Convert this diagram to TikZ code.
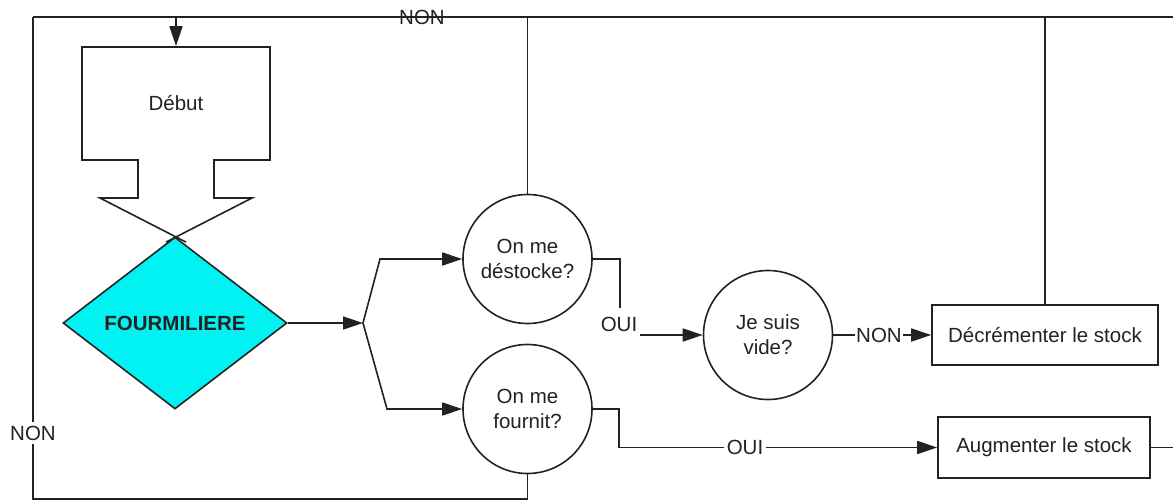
\documentclass[tikz,border=0pt]{standalone}
\usepackage{fontspec}
\setmainfont{Liberation Sans}
\usetikzlibrary{arrows.meta,shapes.geometric}
\definecolor{ink}{HTML}{222222}
\definecolor{antcyan}{RGB}{0,242,242}
\begin{document}
\begin{tikzpicture}[x=1pt,y=-1pt,
  line width=1.6pt, color=ink,
  every node/.style={font=\fontsize{20.5}{25}\selectfont},
  arr/.style={-{Triangle[length=20pt,width=13pt]}},
  qcircle/.style={draw, circle, minimum size=129pt, inner sep=0pt, align=center},
  actbox/.style={draw, rectangle, inner sep=0pt},
  lbl/.style={fill=white, inner sep=1pt},
]
\useasboundingbox (0,0) rectangle (1173,501);

% decision diamond
\node[diamond, draw, fill=antcyan, minimum width=224pt, minimum height=172pt,
      inner sep=0pt, font=\fontsize{20.5}{25}\selectfont\bfseries] (fourm) at (175,323) {FOURMILIERE};

% start block with its arrow-shaped outlet
\node[minimum width=188pt, minimum height=113pt, inner sep=0pt] (debut) at (176,103.5) {Début};
\draw (186,242.1) -- (100,198) -- (138,198) -- (138,160) -- (82,160) -- (82,47)
      -- (270,47) -- (270,160) -- (214,160) -- (214,198) -- (252,198) -- (166,242.1);

% questions
\node[qcircle] (q1) at (527.5,259) {On me\\déstocke?};
\node[qcircle] (q2) at (527.5,409) {On me\\fournit?};
\node[qcircle] (q3) at (768,335) {Je suis\\vide?};

% actions
\node[actbox, minimum width=226pt, minimum height=60pt] (dec) at (1045,335) {Décrémenter le stock};
\node[actbox, minimum width=212pt, minimum height=61pt] (aug) at (1044,447.5) {Augmenter le stock};

% routing points
\coordinate (fork) at (363,323);
\coordinate (topL) at (33,17);
\coordinate (topM) at (1045,17);
\coordinate (topR) at (1173,17);
\coordinate (botL) at (33,499);
\coordinate (feed) at (176,17);
\coordinate (augout) at (1173,447.5);

% flow
\draw[arr] (fourm.east) -- (fork);
\draw[arr] (fork) -- (380,259) -- (q1.west);
\draw[arr] (fork) -- (387,409) -- (q2.west);

\draw (q1.north) -- (q1.north |- topL);
\draw (q2.south) -- (q2.south |- botL) -- (botL) -- (topL);
\draw[line width=2.2pt] (topL) -- (topM);
\draw (topM) -- (topR);
\draw[arr] (feed) -- (debut.north);
\draw (dec.north) -- (topM);

\draw[arr] (q1.east) -- (620,259) -- (620,335) -- (q3.west);
\draw[arr] (q3.east) -- (q3.east -| dec.west);
\draw[arr] (q2.east) -- (619,409) -- (619,447.5) -- (aug.west);
\draw (aug.east) -- (augout);

% branch labels
\node (nonTop) at (422,17) {NON};
\node[lbl, inner ysep=4pt] (nonLeft) at (33,433) {NON};
\node[fill=white, inner sep=0pt, minimum width=42pt, minimum height=32pt] (ouiA) at (619,324) {OUI};
\node[lbl] (nonB) at (879,335) {NON};
\node[lbl, inner xsep=3pt] (ouiB) at (745,447.5) {OUI};
\end{tikzpicture}
\end{document}
